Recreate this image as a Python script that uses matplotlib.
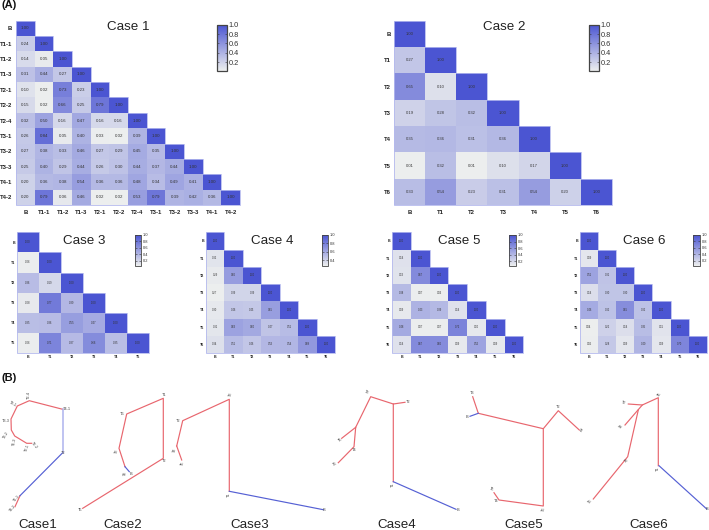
import numpy as np
import matplotlib
matplotlib.use('Agg')
import matplotlib.pyplot as plt
from matplotlib.colors import LinearSegmentedColormap, Normalize

plt.rcParams['font.family'] = ['Liberation Sans', 'DejaVu Sans']

W, H = 709, 530

# DATA: lower triangles of the correlation matrices
labels1 = ['B', 'T1-1', 'T1-2', 'T1-3', 'T2-1', 'T2-2', 'T2-4', 'T3-1', 'T3-2', 'T3-3', 'T4-1', 'T4-2']
case1 = [[1.00],
         [.24, 1.00],
         [.14, .05, 1.00],
         [.31, .44, .27, 1.00],
         [.10, .02, .73, .23, 1.00],
         [.15, .02, .66, .25, .79, 1.00],
         [.32, .50, .16, .47, .16, .16, 1.00],
         [.26, .84, .05, .40, .03, .02, .39, 1.00],
         [.27, .38, .33, .46, .27, .29, .45, .35, 1.00],
         [.25, .40, .29, .44, .26, .30, .44, .37, .44, 1.00],
         [.20, .36, .38, .54, .36, .36, .48, .34, .49, .41, 1.00],
         [.20, .79, .06, .46, .02, .02, .53, .79, .39, .42, .36, 1.00]]
labels2 = ['B', 'T1', 'T2', 'T3', 'T4', 'T5', 'T6']
case2 = [[1.00],
         [.27, 1.00],
         [.65, .10, 1.00],
         [.19, .28, .32, 1.00],
         [.35, .36, .31, .36, 1.00],
         [.01, .32, .01, .10, .17, 1.00],
         [.33, .54, .23, .31, .54, .20, 1.00]]
labels3 = ['B', 'T1', 'T2', 'T3', 'T4', 'T5']
case3 = [[1.00],
         [.06, 1.00],
         [.36, .19, 1.00],
         [.08, .77, .39, 1.00],
         [.35, .36, .55, .47, 1.00],
         [.06, .71, .37, .66, .35, 1.00]]
case4 = [[1.00],
         [.32, 1.00],
         [.29, .66, 1.00],
         [.27, .39, .39, 1.00],
         [.30, .46, .45, .65, 1.00],
         [.31, .63, .60, .47, .51, 1.00],
         [.34, .51, .46, .53, .54, .68, 1.00]]
case5 = [[1.00],
         [.14, 1.00],
         [.13, .67, 1.00],
         [.38, .07, .06, 1.00],
         [.09, .43, .39, .14, 1.00],
         [.48, .07, .07, .72, .10, 1.00],
         [.14, .67, .66, .09, .52, .09, 1.00]]
case6 = [[1.00],
         [.09, 1.00],
         [.51, .31, 1.00],
         [.14, .30, .30, 1.00],
         [.46, .32, .65, .32, 1.00],
         [.04, .22, .14, .35, .11, 1.00],
         [.05, .28, .09, .40, .09, .70, 1.00]]

# pixel boxes: heatmap (x0, y0, x1, y1), colorbar, title centre
panels = [
    ('Case 1', case1, labels1, (16, 20.7, 240, 205), (216.7, 24.7, 226.7, 70.7), (128, 27), 3.2, 4.3, 5.3, .02),
    ('Case 2', case2, labels2, (394.3, 20.7, 611.7, 205), (589, 24.7, 598.7, 71), (504, 27), 3.0, 4.3, 5.3, .01),
    ('Case 3', case3, labels3, (16.7, 232.3, 149, 353), (135, 235, 141, 265.7), (84, 241), 2.0, 2.6, 2.9, .05),
    ('Case 4', case4, labels2, (205.7, 232.3, 335.3, 353), (321.7, 235, 328, 265.7), (271.7, 241), 1.9, 2.6, 2.9, .27),
    ('Case 5', case5, labels2, (392.3, 232.3, 523.3, 353), (509.3, 235, 515.7, 265.7), (459, 241), 1.9, 2.6, 2.9, .06),
    ('Case 6', case6, labels2, (580, 232.3, 706.7, 353), (693.3, 235, 699.7, 265.7), (644.7, 241), 1.9, 2.6, 2.9, .04),
]

# tree branches in picture pixels
tree_red = [
    # Case1
    [(62.7, 409.3), (29.3, 400.7), (17.3, 406), (11, 419), (11.3, 430), (14.7, 436), (26.7, 443.3), (31.7, 443.3)],
    [(20, 495.7), (15, 506.7)],
    # Case2
    [(82.7, 508.3), (163.3, 458.3), (163.3, 398.3), (126.7, 414), (119, 448.3), (125, 466.7)],
    # Case3
    [(176.7, 446), (182.7, 420.7), (229.3, 399.3), (229.3, 491.3)],
    [(176.7, 446), (181.7, 460)],
    # Case4
    [(405, 402.3), (393.3, 404), (393.3, 481.7)],
    [(393.3, 404), (370.7, 396.7), (355.7, 427.3), (354, 446.7), (338.3, 462.7)],
    [(355.7, 427.3), (341.7, 438.3)],
    # Case5
    [(472.7, 396.7), (478.3, 413.3), (543.3, 428.7), (558.3, 410.7), (579.3, 430)],
    [(543.3, 428.7), (543.3, 506), (499, 500), (494, 492.7)],
    # Case6
    [(628.3, 404), (642.3, 405), (658.3, 397.7), (658.3, 465.7)],
    [(642.3, 405), (625, 425)],
    [(638.3, 410), (627.7, 456.7), (593.3, 499)],
]
tree_blue = [
    [(62.7, 452.7), (20, 495.7)],
    [(125, 466.7), (129.3, 471.7)],
    [(229.3, 491.3), (323.3, 509.7)],
    [(393.3, 481.7), (456, 509.3)],
    [(478.3, 413.3), (470, 416.3)],
    [(659, 465.7), (706.7, 509)],
]
tree_pale = [
    [(62.7, 409.3), (62.7, 452.7)],
]
tree_text = [
    (66.7, 409, 'T4-1', 0), (29, 395, 'T2-4', 90), (12.5, 404.5, 'T3-1', -30), (5.7, 420.7, 'T3-3', 0),
    (6, 435, 'T3-2', 60), (14.3, 441.7, 'T1-3', 80), (27.7, 447.5, 'T2-1', 70), (34.3, 445.5, 'T2-2', -50),
    (62.7, 452.7, 'T2', 0), (17, 498, 'T1-1', 50), (13, 508, 'T4-2', 50),
    (80, 510, 'T5', 0), (164, 461, 'T2', 0), (164.5, 394.5, 'T1', 0), (122, 414.3, 'T6', 0),
    (116.3, 451.7, 'T3', 70), (125, 474, 'T4', 80), (131, 474, 'B', 0),
    (177.7, 421.3, 'T2', 0), (174.3, 450, 'T4', 70), (182.3, 464, 'T5', 70),
    (230.7, 395, 'T3', 70), (229.3, 495, 'T1', 90), (324.3, 510.3, 'B', 0),
    (407.7, 401.7, 'T2', 0), (366.7, 392.7, 'T3', -30), (340, 440, 'T5', 30), (354, 450, 'T4', 0),
    (335, 464.7, 'T6', 20), (393, 485, 'T1', 90), (457.7, 510, 'B', 0),
    (471.7, 393.3, 'T3', 0), (467.3, 416.7, 'B', 0), (558.3, 407.3, 'T2', 0), (580, 431, 'T1', -40),
    (491.7, 489.3, 'T5', -30), (496, 501, 'T4', 0), (544, 509.3, 'T6', 70),
    (623.7, 403.3, 'T2', -20), (620.7, 426.7, 'T4', 40), (589.7, 501.3, 'T6', 40), (626.7, 460.7, 'T3', 30),
    (660, 394.3, 'T5', 50), (658.3, 468.3, 'T1', 90), (707, 509.5, 'B', 0),
]
case_names = ['Case1', 'Case2', 'Case3', 'Case4', 'Case5', 'Case6']
case_x = [38, 122.5, 250, 396.7, 524, 648.7]

# colours
cmap = LinearSegmentedColormap.from_list('corr', ['#eceeee', '#4b55d2'])
EDGE = '#b4b9ee'
RED = '#e8666e'
BLUE = '#5560d4'
PALE = '#aeb3ee'
TXT = '#333333'


def box(x0, y0, x1, y1):
    return [x0 / W, 1 - y1 / H, (x1 - x0) / W, (y1 - y0) / H]


fig = plt.figure(figsize=(W / 100, H / 100), dpi=100)

# HEATMAPS
for name, rows, names, hbox, cbox, tpos, cell_fs, tick_fs, cbar_fs, vmin in panels:
    n = len(rows)
    mat = np.full((n, n), np.nan)
    for i, row in enumerate(rows):
        mat[i, :len(row)] = row

    ax = fig.add_axes(box(*hbox))
    norm = Normalize(vmin, 1.0)
    mesh = ax.pcolormesh(np.ma.masked_invalid(mat), cmap=cmap, norm=norm, edgecolors='none')
    ax.set_xlim(0, n)
    ax.set_ylim(n, 0)
    ax.set_xticks(np.arange(n) + .5, names, fontsize=tick_fs, fontweight='bold', color='#222222')
    ax.set_yticks(np.arange(n) + .5, names, fontsize=tick_fs, fontweight='bold', color='#222222')
    big = tick_fs > 4
    ax.tick_params(axis='x', length=0, pad=3.6 if big else 1.8)
    ax.tick_params(axis='y', length=0, pad=2.6 if big else 1.2)
    for s in ax.spines.values():
        s.set_visible(False)
    for i, row in enumerate(rows):
        for j, v in enumerate(row):
            ax.text(j + .5, i + .5, f'{v:.2f}', ha='center', va='center', fontsize=cell_fs, color=TXT)

    # pale outline along the staircase
    sx = [0] + [v for k in range(1, n + 1) for v in (k, k)] + [0, 0]
    sy = [0, 0] + [v for k in range(1, n) for v in (k, k)] + [n, n, 0]
    ax.plot(sx, sy, color=EDGE, lw=.6, clip_on=False, solid_joinstyle='miter')

    cax = fig.add_axes(box(*cbox))
    cb = fig.colorbar(mesh, cax=cax, ticks=[t for t in (.2, .4, .6, .8, 1.0) if t >= vmin])
    cb.outline.set_edgecolor('#444444')
    cb.outline.set_linewidth(.9 if big else .6)
    cb.ax.tick_params(labelsize=cbar_fs, length=1.2, width=.4, direction='in', pad=1.5,
                      left=True, right=True, colors='#333333')

    fig.text(tpos[0] / W, 1 - tpos[1] / H, name, fontsize=9.6, ha='center', va='center', color='#222222')

# TREES
ov = fig.add_axes([0, 0, 1, 1], facecolor='none')
ov.set_xlim(0, W)
ov.set_ylim(H, 0)
ov.axis('off')
for branch in tree_red:
    xs, ys = zip(*branch)
    ov.plot(xs, ys, color=RED, lw=.85)
for branch in tree_blue:
    xs, ys = zip(*branch)
    ov.plot(xs, ys, color=BLUE, lw=.85)
for branch in tree_pale:
    xs, ys = zip(*branch)
    ov.plot(xs, ys, color=PALE, lw=1.1)
for x, y, s, rot in tree_text:
    ov.text(x, y, s, fontsize=2.8, rotation=rot, ha='center', va='center', color='#444444')
for s, x in zip(case_names, case_x):
    ov.text(x, 525, s, fontsize=9.6, ha='center', va='center', color='#222222')

fig.text(2 / W, 1 - 5.5 / H, '(A)', fontsize=8, fontweight='bold', ha='left', va='center', color='#111111')
fig.text(2 / W, 1 - 378 / H, '(B)', fontsize=8, fontweight='bold', ha='left', va='center', color='#111111')

fig.savefig('out.png', dpi=100)
